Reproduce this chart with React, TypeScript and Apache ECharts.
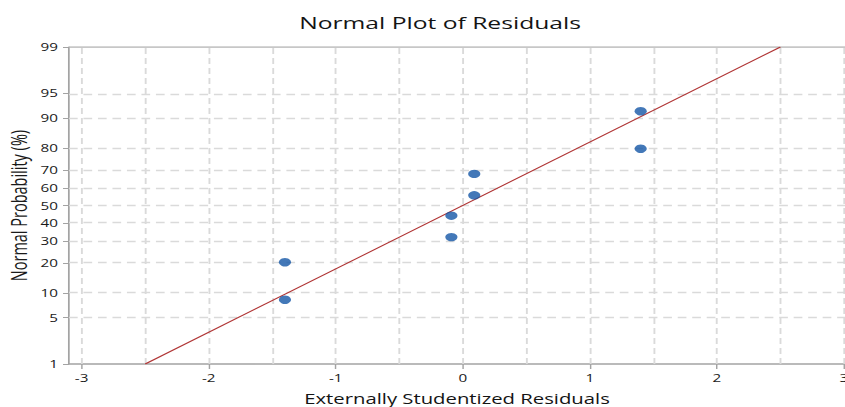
import React, { useEffect, useRef } from "react";
import * as echarts from "echarts";

const residualX = [-1.4, -1.4, -0.09, -0.09, 0.09, 0.09, 1.4, 1.4];
const residualPct = [8.33, 20.24, 32.14, 44.05, 55.95, 67.86, 79.76, 91.67];
const fitX = [-2.5, 2.5];
const fitPct = [1, 99];
const yTickPct = [1, 5, 10, 20, 30, 40, 50, 60, 70, 80, 90, 95, 99];
const xTickLabels = [-3, -2, -1, 0, 1, 2, 3];
const xGridValues = [-3, -2.5, -2, -1.5, -1, -0.5, 0, 0.5, 1, 1.5, 2, 2.5, 3];

// inverse standard normal CDF (Acklam)
function probit(p: number): number {
  const a = [-3.969683028665376e1, 2.209460984245205e2, -2.759285104469687e2, 1.38357751867269e2, -3.066479806614716e1, 2.506628277459239];
  const b = [-5.447609879822406e1, 1.615858368580409e2, -1.556989798598866e2, 6.680131188771972e1, -1.328068155288572e1];
  const c = [-7.784894002430293e-3, -3.223964580411365e-1, -2.400758277161838, -2.549732539343734, 4.374664141464968, 2.938163982698783];
  const d = [7.784695709041462e-3, 3.224671290700398e-1, 2.445134137142996, 3.754408661907416];
  const pl = 0.02425;
  if (p < pl) {
    const q = Math.sqrt(-2 * Math.log(p));
    return (((((c[0] * q + c[1]) * q + c[2]) * q + c[3]) * q + c[4]) * q + c[5]) / ((((d[0] * q + d[1]) * q + d[2]) * q + d[3]) * q + 1);
  }
  if (p > 1 - pl) {
    const q = Math.sqrt(-2 * Math.log(1 - p));
    return -(((((c[0] * q + c[1]) * q + c[2]) * q + c[3]) * q + c[4]) * q + c[5]) / ((((d[0] * q + d[1]) * q + d[2]) * q + d[3]) * q + 1);
  }
  const q = p - 0.5;
  const r = q * q;
  return ((((((a[0] * r + a[1]) * r + a[2]) * r + a[3]) * r + a[4]) * r + a[5]) * q) / (((((b[0] * r + b[1]) * r + b[2]) * r + b[3]) * r + b[4]) * r + 1);
}
const z = (pct: number) => probit(pct / 100);

// the reference picture is horizontally stretched; reproduce that with a CSS scale
const STRETCH = 1.45;
const INNER_W = Math.round(845 / STRETCH);

export default function App() {
  const ref = useRef<HTMLDivElement>(null);
  useEffect(() => {
    if (!ref.current) return;
    const chart = echarts.init(ref.current, undefined, { renderer: "svg" });
    const yTickZ = yTickPct.map(z);
    const font = "'Open Sans', 'Noto Sans', sans-serif";
    const px = (v: number) => v / STRETCH;
    chart.setOption({
      animation: false,
      backgroundColor: "#ffffff",
      title: {
        text: "Normal Plot of Residuals",
        left: px(292),
        top: 9,
        textStyle: { fontFamily: font, fontSize: 17, fontWeight: 500, color: "#141414" },
      },
      grid: { left: px(69), right: INNER_W - px(857), top: 47, bottom: 43, outerBoundsMode: "none" },
      xAxis: {
        type: "value",
        min: -3.1,
        max: 3.1,
        name: "Externally Studentized Residuals",
        nameLocation: "middle",
        nameGap: 27,
        nameMoveOverlap: false,
        nameTextStyle: { fontFamily: font, fontSize: 14, color: "#141414", padding: [0, 8, 0, 0] },
        axisLine: { show: true, onZero: false, lineStyle: { color: "#a3a3a3", width: 1.5 } },
        axisTick: { show: true, customValues: xTickLabels, length: 5, lineStyle: { color: "#a3a3a3", width: 1 } },
        axisLabel: { customValues: xTickLabels, fontFamily: font, fontSize: 10.5, color: "#1a1a1a", margin: 8 },
        splitLine: { show: false },
      },
      yAxis: {
        type: "value",
        min: z(1),
        max: z(99),
        name: "Normal Probability (%)",
        nameLocation: "middle",
        nameGap: 27,
        nameMoveOverlap: false,
        nameTextStyle: { fontFamily: font, fontSize: 14.5, color: "#1a1a1a" },
        axisLine: { show: true, onZero: false, lineStyle: { color: "#a3a3a3", width: 1.2 } },
        axisTick: { show: true, customValues: yTickZ, length: px(6), lineStyle: { color: "#a3a3a3" } },
        axisLabel: {
          customValues: yTickZ,
          fontFamily: font,
          fontSize: 10.5,
          color: "#1a1a1a",
          margin: px(11),
          formatter: (v: number) => {
            let best = 0;
            yTickZ.forEach((t, i) => {
              if (Math.abs(t - v) < Math.abs(yTickZ[best] - v)) best = i;
            });
            return String(yTickPct[best]);
          },
        },
        splitLine: { show: false },
      },
      series: [
        {
          type: "line",
          data: [],
          silent: true,
          z: 1,
          markLine: {
            silent: true,
            z: 1,
            symbol: "none",
            label: { show: false },
            emphasis: { disabled: true },
            lineStyle: { color: "#dadada", type: [6, 4], width: 1.3 },
            data: [
              ...xGridValues.map((v) => ({ xAxis: v })),
              ...yTickZ.slice(1, -1).map((v) => ({ yAxis: v })),
            ],
          },
        },
        {
          type: "line",
          data: [
            [-3.1, z(99)],
            [3.1, z(99)],
          ],
          symbol: "none",
          lineStyle: { color: "#b5b5b5", width: 1.5 },
          silent: true,
          z: 2,
        },
        {
          type: "line",
          data: fitX.map((x, i) => [x, z(fitPct[i])]),
          symbol: "none",
          lineStyle: { color: "#b03535", width: 1 },
          z: 3,
        },
        {
          type: "scatter",
          data: residualX.map((x, i) => [x, z(residualPct[i])]),
          symbol: "circle",
          symbolSize: [8.4, 8.4],
          itemStyle: { color: "#1456a6" },
          z: 4,
        },
      ],
    });
    return () => chart.dispose();
  }, []);
  return (
    <div
      ref={ref}
      style={{
        width: INNER_W,
        height: 407,
        position: "fixed",
        left: 0,
        top: 0,
        transform: `scaleX(${845 / INNER_W})`,
        transformOrigin: "0 0",
      }}
    />
  );
}
